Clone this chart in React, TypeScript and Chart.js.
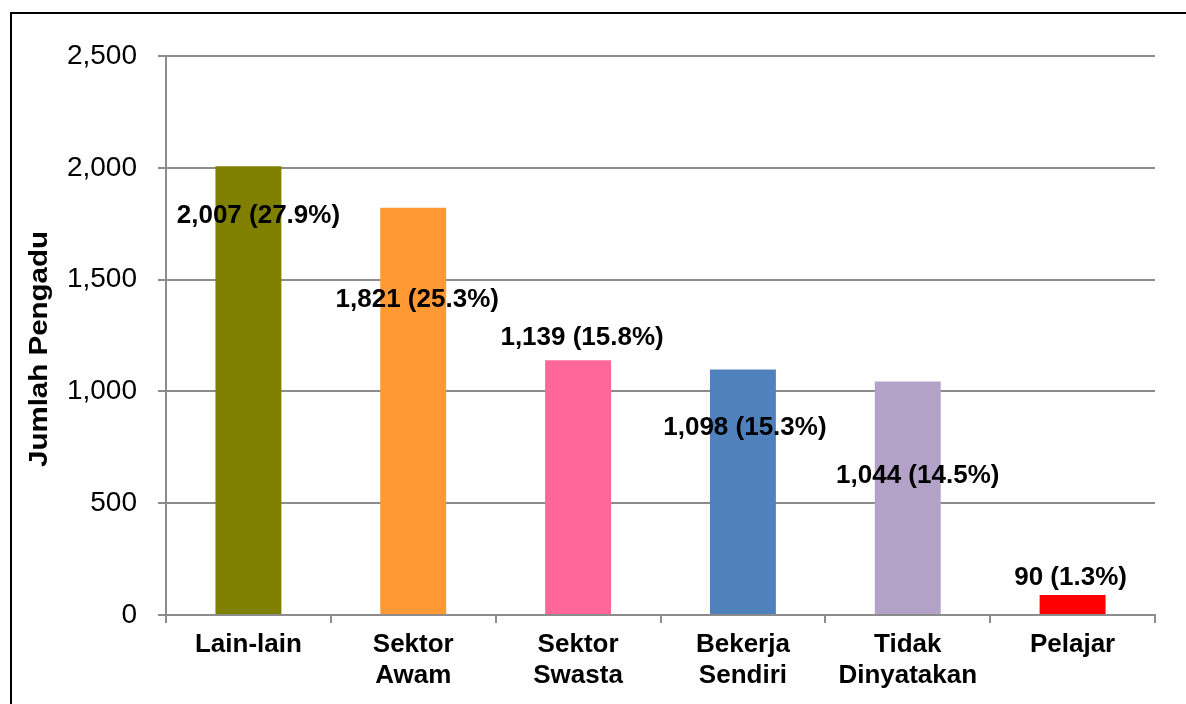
import React, { useEffect, useRef } from "react";
import { Chart, registerables } from "chart.js";

Chart.register(...registerables);

const categories: (string | string[])[] = [
  "Lain-lain",
  ["Sektor", "Awam"],
  ["Sektor", "Swasta"],
  ["Bekerja", "Sendiri"],
  ["Tidak", "Dinyatakan"],
  "Pelajar",
];
const values = [2007, 1821, 1139, 1098, 1044, 90];
const percents = ["27.9%", "25.3%", "15.8%", "15.3%", "14.5%", "1.3%"];
const barColors = ["#808000", "#FF9933", "#FF6699", "#4F81BD", "#B3A2C7", "#FF0000"];
const yTicks = [0, 500, 1000, 1500, 2000, 2500];
const yTitle = "Jumlah Pengadu";

// label placement relative to bar top (layout, not data)
const labelDx = [10, 4, 4, 2, 10, -2];
const labelDy = [50, 92, -22, 58, 94, -17];

const FONT = "'Liberation Sans', Arial, sans-serif";
const GRID = "#8c8c8c";

const fmt = (n: number) => n.toLocaleString("en-US");

const labelPlugin = {
  id: "barLabels",
  afterDatasetsDraw(chart: any) {
    const ctx = chart.ctx;
    const meta = chart.getDatasetMeta(0);
    ctx.save();
    ctx.font = `bold 26px ${FONT}`;
    ctx.fillStyle = "#000";
    ctx.textAlign = "center";
    ctx.textBaseline = "middle";
    meta.data.forEach((bar: any, i: number) => {
      const txt = `${fmt(values[i])} (${percents[i]})`;
      ctx.fillText(txt, bar.x + labelDx[i], bar.y + labelDy[i]);
    });
    ctx.restore();
  },
};

const yTitlePlugin = {
  id: "yTitle",
  afterDraw(chart: any) {
    const ctx = chart.ctx;
    ctx.save();
    ctx.font = `bold 25px ${FONT}`;
    ctx.fillStyle = "#000";
    ctx.textAlign = "center";
    ctx.textBaseline = "middle";
    const w = ctx.measureText(yTitle).width;
    const target = 236;
    ctx.translate(40, 349);
    ctx.rotate(-Math.PI / 2);
    ctx.scale(target / w, 1);
    ctx.fillText(yTitle, 0, 0);
    ctx.restore();
  },
};

export default function App() {
  const ref = useRef<HTMLCanvasElement | null>(null);

  useEffect(() => {
    if (!ref.current) return;
    const chart = new Chart(ref.current, {
      type: "bar",
      data: {
        labels: categories,
        datasets: [
          {
            data: values,
            backgroundColor: barColors,
            borderWidth: 0,
            barPercentage: 0.4,
            categoryPercentage: 1.0,
          },
        ],
      },
      options: {
        responsive: false,
        animation: false,
        devicePixelRatio: 1,
        locale: "en-US",
        layout: { padding: { left: 0, top: 56, right: 31, bottom: 0 } },
        plugins: {
          legend: { display: false },
          tooltip: { enabled: false },
          title: { display: false },
        },
        scales: {
          x: {
            grid: {
              display: true,
              offset: true,
              drawOnChartArea: false,
              drawTicks: true,
              tickLength: 8,
              color: GRID,
              lineWidth: 2,
            },
            border: { display: true, color: GRID, width: 2 },
            ticks: {
              color: "#000",
              font: { family: FONT, size: 26, weight: "bold" },
              padding: 6,
              maxRotation: 0,
              autoSkip: false,
            },
            afterFit(scale: any) {
              scale.height = 89;
            },
          },
          y: {
            min: 0,
            max: 2500,
            afterBuildTicks(scale: any) {
              scale.ticks = yTicks.map((v) => ({ value: v }));
            },
            grid: {
              color: GRID,
              lineWidth: 2,
              tickLength: 8,
              drawTicks: true,
            },
            border: { display: true, color: GRID, width: 2 },
            ticks: {
              color: "#000",
              font: { family: FONT, size: 28 },
              padding: 21,
              callback: (v: any) => fmt(Number(v)),
            },
            title: { display: false, text: yTitle },
            afterFit(scale: any) {
              scale.width = 166;
            },
          },
        },
      },
      plugins: [labelPlugin, yTitlePlugin],
    });
    return () => chart.destroy();
  }, []);

  return (
    <div
      style={{
        position: "fixed",
        left: 0,
        top: 0,
        width: 1186,
        height: 704,
        background: "#fff",
        overflow: "hidden",
      }}
    >
      <div
        style={{
          position: "absolute",
          left: 10,
          top: 12,
          width: 1300,
          height: 800,
          borderLeft: "2px solid #000",
          borderTop: "2px solid #000",
        }}
      />
      <canvas
        ref={ref}
        width={1186}
        height={704}
        style={{ position: "absolute", left: 0, top: 0, width: 1186, height: 704 }}
      />
    </div>
  );
}
